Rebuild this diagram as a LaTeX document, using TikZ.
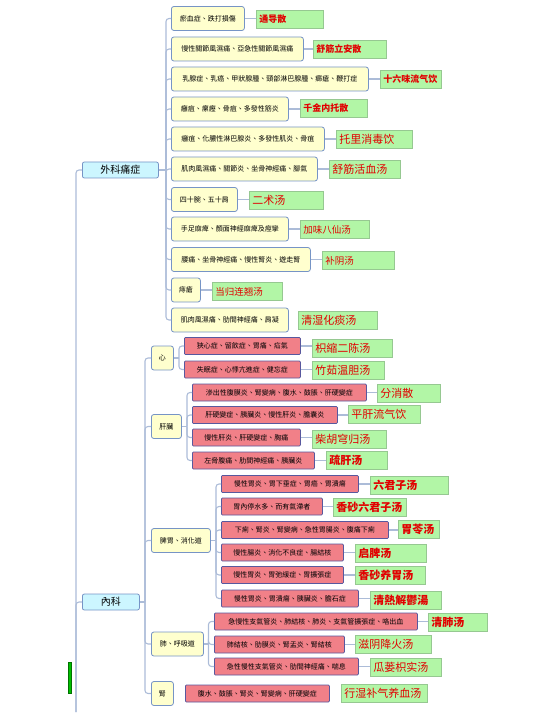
\documentclass[tikz,border=0pt]{standalone}
\usepackage{fontspec}
\usepackage{tikz}
\newfontfamily\tcfont{Noto Sans CJK TC}
\newfontfamily\scfont{Noto Sans CJK SC}
\definecolor{symfill}{RGB}{255,255,206}
\definecolor{symline}{RGB}{118,148,198}
\definecolor{disfill}{RGB}{241,128,136}
\definecolor{disline}{RGB}{88,88,158}
\definecolor{fangfill}{RGB}{178,246,166}
\definecolor{fangline}{RGB}{150,200,145}
\definecolor{fangtext}{RGB}{226,0,0}
\definecolor{rootfill}{RGB}{204,246,255}
\definecolor{linkcol}{RGB}{172,188,216}

\begin{document}
\begin{tikzpicture}[x=1pt,y=-1pt,
  root/.style={draw=symline, fill=rootfill, rounded corners=2pt, line width=0.8pt,
    minimum height=16pt, anchor=west, inner sep=0pt, font=\tcfont\fontsize{10}{11}\selectfont},
  sym/.style={draw=symline, fill=symfill, rounded corners=2.5pt, line width=0.8pt,
    minimum height=24pt, anchor=west, inner sep=0pt, font=\tcfont\fontsize{7}{8}\selectfont},
  dis/.style={draw=disline, fill=disfill, rounded corners=1pt, line width=0.8pt,
    minimum height=17pt, anchor=west, inner sep=0pt, font=\tcfont\fontsize{7}{8}\selectfont},
  fang/.style={draw=fangline, fill=fangfill, line width=0.5pt, minimum height=18pt,
    anchor=west, inner xsep=3pt, inner ysep=0pt, align=left, text=fangtext,
    font=\scfont\fontsize{11}{12}\selectfont},
  fangs/.style={fang, font=\scfont\fontsize{9.5}{11}\selectfont},
  fangb/.style={fang, font=\scfont\bfseries\fontsize{9}{11}\selectfont},
  link/.style={draw=linkcol, line width=1.1pt, rounded corners=3pt}]
  \useasboundingbox (0,0) rectangle (533,714);

  % roots
  \node[root, minimum width=76pt] (wai) at (82,170) {外科痛症};
  \node[root, minimum width=57pt] (nei) at (82,602) {內科};
  \draw[draw=green!45!black, fill=green!75!black, line width=0.4pt] (68,662) rectangle (71,693);

  % surgery
  \node[sym, minimum width=73pt]  (w1)  at (171,18.5) {瘀血症、跌打損傷};
  \node[sym, minimum width=132pt] (w2)  at (171,49)   {慢性關節風濕痛、亞急性關節風濕痛};
  \node[sym, minimum width=197pt] (w3)  at (171,79)   {乳腺症、乳癌、甲狀腺腫、頸部淋巴腺腫、癤瘡、鞭打症};
  \node[sym, minimum width=117pt] (w4)  at (171,109)  {癰疽、瘰癧、骨疽、多發性筋炎};
  \node[sym, minimum width=153pt] (w5)  at (171,139)  {癰疽、化膿性淋巴腺炎、多發性肌炎、骨疽};
  \node[sym, minimum width=146pt] (w6)  at (171,169)  {肌肉風濕痛、關節炎、坐骨神經痛、腳氣};
  \node[sym, minimum width=66pt]  (w7)  at (171,199.5){四十腕、五十肩};
  \node[sym, minimum width=117pt] (w8)  at (171,229)  {手足麻痺、顏面神經麻痺及痙攣};
  \node[sym, minimum width=139pt] (w9)  at (171,259.5){腰痛、坐骨神經痛、慢性腎炎、遊走腎};
  \node[sym, minimum width=29pt]  (w10) at (171,290)  {痔瘡};
  \node[sym, minimum width=117pt] (w11) at (171,320)  {肌肉風濕痛、肋間神經痛、肩凝};

  \node[fangb, text width=61pt] (g1)  at (256,19.5)  {通导散};
  \node[fangb, text width=67pt] (g2)  at (313,49.5)  {舒筋立安散};
  \node[fangb, text width=55pt] (g3)  at (380,79)    {十六味流气饮};
  \node[fangb, text width=61pt] (g4)  at (300,108)   {千金内托散};
  \node[fang, text width=70pt]  (g5)  at (336,139)   {托里消毒饮};
  \node[fang, text width=65pt]  (g6)  at (329,169.5) {舒筋活血汤};
  \node[fang, text width=68pt]  (g7)  at (249,200.5) {二术汤};
  \node[fangs, text width=63pt] (g8)  at (300,229.5) {加味八仙汤};
  \node[fangs, text width=66pt] (g9)  at (322,260.5) {补阴汤};
  \node[fangs, text width=64pt] (g10) at (212,291.5) {当归连翘汤};
  \node[fang, text width=73pt]  (g11) at (298,320)   {清湿化痰汤};

  % internal medicine
  \node[sym, minimum width=22pt] (s1) at (151,358)   {心};
  \node[sym, minimum width=30pt] (s2) at (151,426.5) {肝臟};
  \node[sym, minimum width=59pt] (s3) at (151,540.5) {脾胃、消化道};
  \node[sym, minimum width=52pt] (s4) at (151,644)   {肺、呼吸道};
  \node[sym, minimum width=22pt] (s5) at (151,693.5) {腎};

  \node[dis, minimum width=116pt] (r11) at (184,346)   {狹心症、留飲症、胃痛、疝氣};
  \node[dis, minimum width=116pt] (r12) at (184,369.5) {失眠症、心悸亢進症、健忘症};
  \node[dis, minimum width=174pt] (r21) at (192,392.5) {滲出性腹膜炎、腎變病、腹水、鼓脹、肝硬變症};
  \node[dis, minimum width=145pt] (r22) at (192,415)   {肝硬變症、胰臟炎、慢性肝炎、膽囊炎};
  \node[dis, minimum width=108pt] (r23) at (192,437.5) {慢性肝炎、肝硬變症、胸痛};
  \node[dis, minimum width=122pt] (r24) at (192,460.5) {左脅腹痛、肋間神經痛、胰臟炎};
  \node[dis, minimum width=137pt] (r31) at (221,484)   {慢性胃炎、胃下垂症、胃癌、胃潰瘍};
  \node[dis, minimum width=101pt] (r32) at (221,506.5) {胃內停水多、而有氣滯者};
  \node[dis, minimum width=167pt] (r33) at (221,530)   {下痢、腎炎、腎變病、急性胃腸炎、腹痛下痢};
  \node[dis, minimum width=122pt] (r34) at (221,552.5) {慢性腸炎、消化不良症、腸結核};
  \node[dis, minimum width=122pt] (r35) at (221,575)   {慢性胃炎、胃弛緩症、胃擴張症};
  \node[dis, minimum width=137pt] (r36) at (221,598.5) {慢性胃炎、胃潰瘍、胰臟炎、膽石症};
  \node[dis, minimum width=203pt] (r41) at (214,621.5) {急慢性支氣管炎、肺結核、肺炎、支氣管擴張症、咯出血};
  \node[dis, minimum width=130pt] (r42) at (214,644.5) {肺結核、肋膜炎、腎盂炎、腎結核};
  \node[dis, minimum width=144pt] (r43) at (214,666.5) {急性慢性支氣管炎、肋間神經痛、喘息};
  \node[dis, minimum width=144pt] (r51) at (185,693.5) {腹水、鼓脹、腎炎、腎變病、肝硬變症};

  \node[fang, text width=74pt] (x11) at (312,348)   {枳縮二陈汤};
  \node[fang, text width=66pt] (x12) at (312,370)   {竹茹温胆汤};
  \node[fang, text width=57pt] (x21) at (377,393)   {分消散};
  \node[fang, text width=66pt] (x22) at (348,414.5) {平肝流气饮};
  \node[fang, text width=68pt] (x23) at (312,439.5) {柴胡穹归汤};
  \node[fang, text width=55pt, font=\scfont\bfseries\fontsize{11}{12}\selectfont] (x24) at (326,460.5) {疏肝汤};
  \node[fang, text width=72pt, font=\scfont\bfseries\fontsize{11}{12}\selectfont] (x31) at (370,485)   {六君子汤};
  \node[fang, text width=67pt, font=\scfont\bfseries\fontsize{11}{12}\selectfont] (x32) at (333,507.5) {香砂六君子汤};
  \node[fang, text width=35pt, font=\scfont\bfseries\fontsize{11}{12}\selectfont] (x33) at (398,529.5) {胃苓汤};
  \node[fang, text width=65pt, font=\scfont\bfseries\fontsize{11}{12}\selectfont] (x34) at (355,553)   {启脾汤};
  \node[fang, text width=64pt, font=\scfont\bfseries\fontsize{11}{12}\selectfont] (x35) at (355,575.5) {香砂养胃汤};
  \node[fang, text width=65pt, font=\scfont\bfseries\fontsize{11}{12}\selectfont] (x36) at (370,600)   {清熱解鬱湯};
  \node[fang, text width=53pt, font=\scfont\bfseries\fontsize{11}{12}\selectfont] (x41) at (428,622)   {清肺汤};
  \node[fang, text width=70pt] (x42) at (355,644.5) {滋阴降火汤};
  \node[fang, text width=65pt] (x43) at (370,667.5) {瓜蒌枳实汤};
  \node[fang, text width=80pt] (x51) at (341,693.5) {行湿补气养血汤};

  % forks
  \coordinate (trunk) at (76,712);
  \coordinate (wfork) at (166,170);
  \coordinate (nfork) at (145,602);
  \coordinate (xfork) at (179,358);
  \coordinate (gfork) at (187,426.5);
  \coordinate (pfork) at (216,540.5);
  \coordinate (ffork) at (208.5,644);

  \draw[link] (trunk) |- (wai.west);
  \draw[link] (trunk) |- (nei.west);

  \draw[link] (wai.east) -- (wfork);
  \draw[link] (wfork) |- (w1.west);
  \draw[link] (wfork) |- (w2.west);
  \draw[link] (wfork) |- (w3.west);
  \draw[link] (wfork) |- (w4.west);
  \draw[link] (wfork) |- (w5.west);
  \draw[link] (wfork) |- (w6.west);
  \draw[link] (wfork) |- (w7.west);
  \draw[link] (wfork) |- (w8.west);
  \draw[link] (wfork) |- (w9.west);
  \draw[link] (wfork) |- (w10.west);
  \draw[link] (wfork) |- (w11.west);

  \draw[link] (w1.east) -- (w1.east -| g1.west);
  \draw[link] (w2.east) -- (w2.east -| g2.west);
  \draw[link] (w3.east) -- (w3.east -| g3.west);
  \draw[link] (w4.east) -- (w4.east -| g4.west);
  \draw[link] (w5.east) -- (w5.east -| g5.west);
  \draw[link] (w6.east) -- (w6.east -| g6.west);
  \draw[link] (w7.east) -- (w7.east -| g7.west);
  \draw[link] (w8.east) -- (w8.east -| g8.west);
  \draw[link] (w9.east) -- (w9.east -| g9.west);
  \draw[link] (w10.east) -- (w10.east -| g10.west);

  \draw[link] (nei.east) -- (nfork);
  \draw[link] (nfork) |- (s1.west);
  \draw[link] (nfork) |- (s2.west);
  \draw[link] (nfork) |- (s3.west);
  \draw[link] (nfork) |- (s4.west);
  \draw[link] (nfork) |- (s5.west);

  \draw[link] (s1.east) -- (xfork);
  \draw[link] (xfork) |- (r11.west);
  \draw[link] (xfork) |- (r12.west);
  \draw[link] (s2.east) -- (gfork);
  \draw[link] (gfork) |- (r21.west);
  \draw[link] (gfork) |- (r22.west);
  \draw[link] (gfork) |- (r23.west);
  \draw[link] (gfork) |- (r24.west);
  \draw[link] (s3.east) -- (pfork);
  \draw[link] (pfork) |- (r31.west);
  \draw[link] (pfork) |- (r32.west);
  \draw[link] (pfork) |- (r33.west);
  \draw[link] (pfork) |- (r34.west);
  \draw[link] (pfork) |- (r35.west);
  \draw[link] (pfork) |- (r36.west);
  \draw[link] (s4.east) -- (ffork);
  \draw[link] (ffork) |- (r41.west);
  \draw[link] (ffork) |- (r42.west);
  \draw[link] (ffork) |- (r43.west);

  \draw[link] (r11.east) -- (r11.east -| x11.west);
  \draw[link] (r12.east) -- (r12.east -| x12.west);
  \draw[link] (r21.east) -- (r21.east -| x21.west);
  \draw[link] (r22.east) -- (r22.east -| x22.west);
  \draw[link] (r23.east) -- (r23.east -| x23.west);
  \draw[link] (r24.east) -- (r24.east -| x24.west);
  \draw[link] (r31.east) -- (r31.east -| x31.west);
  \draw[link] (r32.east) -- (r32.east -| x32.west);
  \draw[link] (r33.east) -- (r33.east -| x33.west);
  \draw[link] (r34.east) -- (r34.east -| x34.west);
  \draw[link] (r35.east) -- (r35.east -| x35.west);
  \draw[link] (r36.east) -- (r36.east -| x36.west);
  \draw[link] (r41.east) -- (r41.east -| x41.west);
  \draw[link] (r42.east) -- (r42.east -| x42.west);
  \draw[link] (r43.east) -- (r43.east -| x43.west);
\end{tikzpicture}
\end{document}
